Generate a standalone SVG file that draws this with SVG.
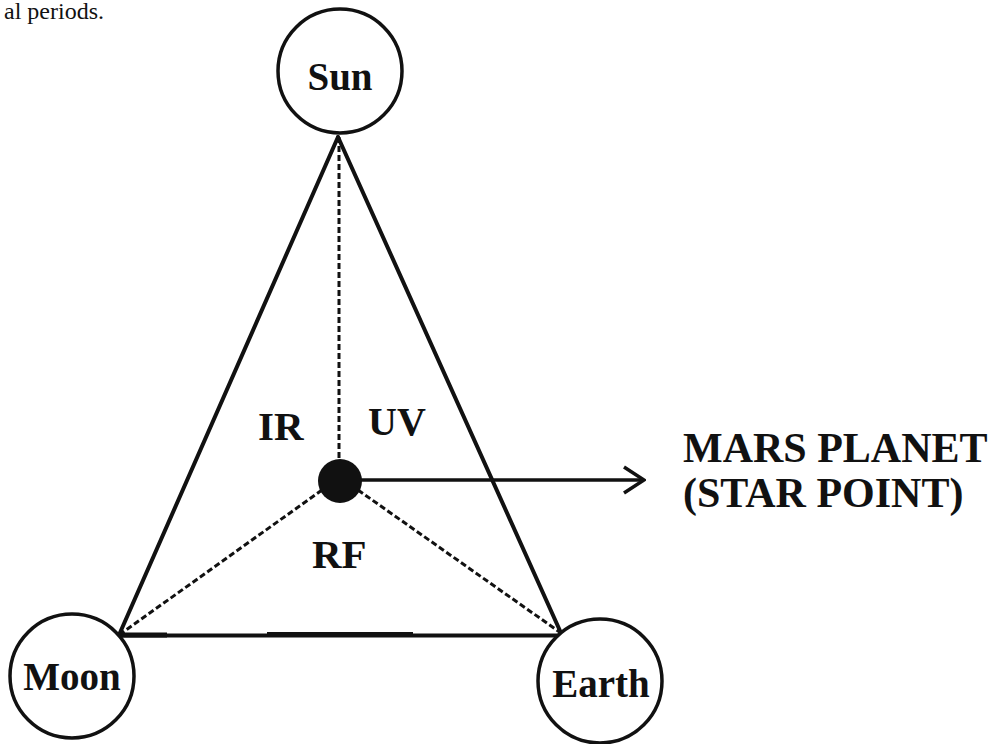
<svg xmlns="http://www.w3.org/2000/svg" width="996" height="744" viewBox="0 0 996 744">
<style>
.node circle{fill:#fff;stroke:#111;stroke-width:3.5}
.lbl{font-family:"Liberation Serif","Times New Roman",serif;font-weight:bold;fill:#111}
.solid{stroke:#111;stroke-width:4;fill:none;stroke-linecap:round}
.dash{stroke:#111;stroke-width:3;fill:none;stroke-dasharray:6 3}
</style>
<defs>
<marker id="chev" viewBox="0 0 24 30" refX="22" refY="15" markerWidth="24" markerHeight="30" markerUnits="userSpaceOnUse" orient="auto">
<path d="M2 2 L22 15 L2 28" fill="none" stroke="#111" stroke-width="3.5"/>
</marker>
</defs>
<rect width="996" height="744" fill="#fff"/>
<text x="4" y="19" font-family="Liberation Serif, serif" font-size="24" fill="#111">al periods.</text>
<g id="connectors">
<line class="solid" x1="338" y1="137" x2="119" y2="635"/>
<line class="solid" x1="338" y1="137" x2="561" y2="633"/>
<line class="solid" x1="119" y1="635.5" x2="561" y2="635.5"/>
<line x1="267" y1="634.5" x2="413" y2="634.5" stroke="#111" stroke-width="5"/>
<line x1="120" y1="635" x2="167" y2="635" stroke="#111" stroke-width="5"/>
<line class="dash" x1="339" y1="137" x2="339" y2="460"/>
<line class="dash" x1="322" y1="490" x2="119" y2="635"/>
<line class="dash" x1="358" y1="490" x2="561" y2="633"/>
<line x1="360" y1="480" x2="644" y2="480" stroke="#111" stroke-width="3.5" marker-end="url(#chev)"/>
</g>
<g id="sun" class="node">
<circle cx="340" cy="71" r="62"/>
<text class="lbl" x="340" y="90" text-anchor="middle" font-size="39">Sun</text>
</g>
<g id="moon" class="node">
<circle cx="72" cy="676" r="62"/>
<text class="lbl" x="72" y="690" text-anchor="middle" font-size="39">Moon</text>
</g>
<g id="earth" class="node">
<circle cx="600" cy="681" r="62"/>
<text class="lbl" x="601" y="697" text-anchor="middle" font-size="39">Earth</text>
</g>
<g id="mars">
<circle cx="340" cy="481" r="22" fill="#111"/>
</g>
<g id="labels">
<text class="lbl" x="258" y="440" font-size="41">IR</text>
<text class="lbl" x="368" y="435" font-size="40">UV</text>
<text class="lbl" x="312" y="568" font-size="41">RF</text>
<text class="lbl" x="683" y="462" font-size="42">MARS PLANET</text>
<text class="lbl" x="683" y="507" font-size="42">(STAR POINT)</text>
</g>
</svg>
